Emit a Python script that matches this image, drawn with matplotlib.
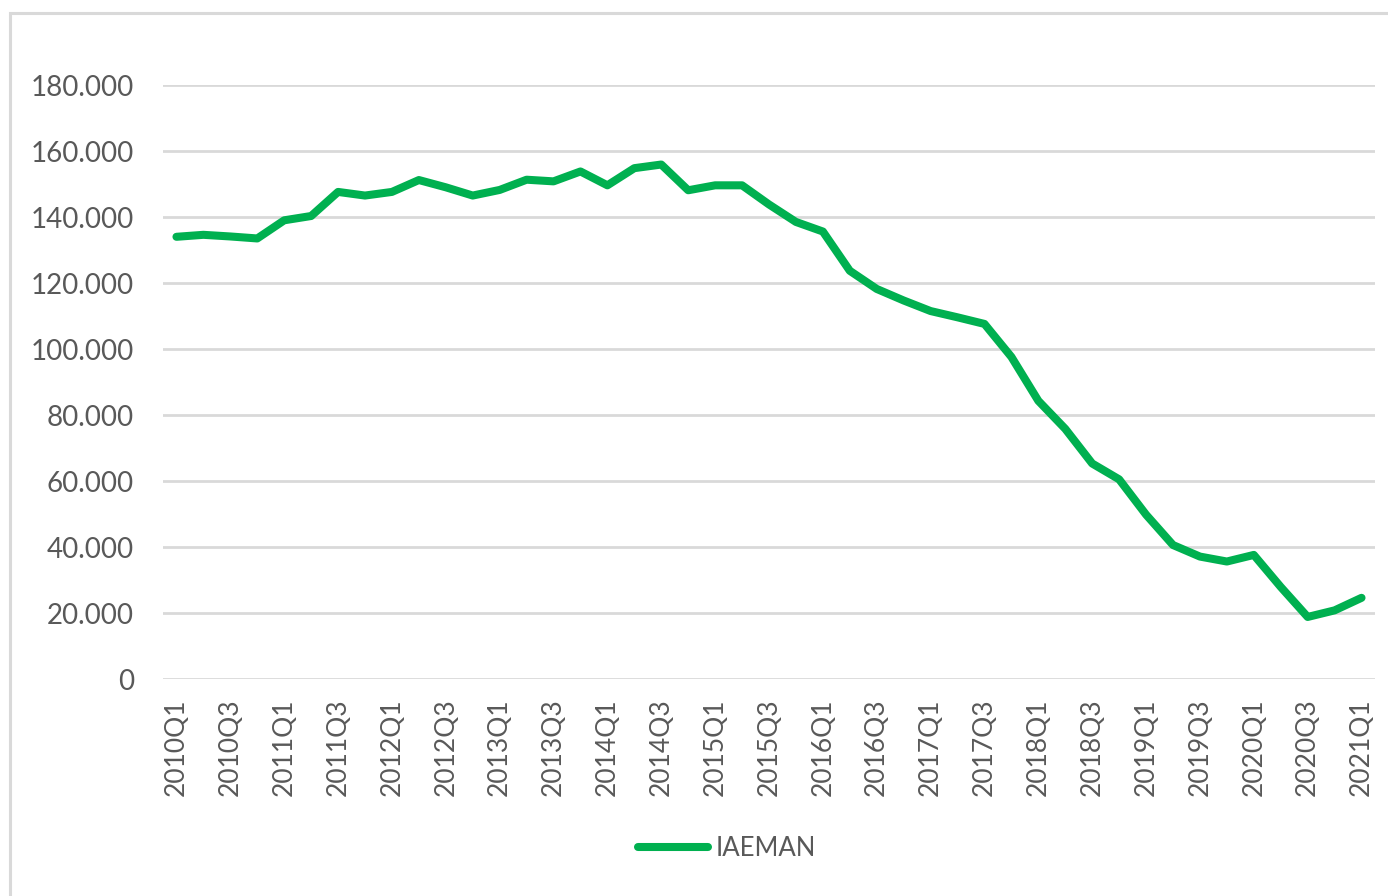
import matplotlib
matplotlib.use("Agg")
import matplotlib.pyplot as plt
from matplotlib.patches import Rectangle

# quarterly series 2010Q1 .. 2021Q1
quarters = [f"{y}Q{q}" for y in range(2010, 2022) for q in range(1, 5)][:45]
iaeman = [
    134.0, 134.6, 134.1, 133.5, 139.0, 140.3, 147.6, 146.5, 147.6, 151.2,
    149.0, 146.5, 148.2, 151.3, 150.8, 153.8, 149.6, 154.8, 155.9, 148.1,
    149.6, 149.6, 143.8, 138.5, 135.6, 123.7, 118.2, 114.7, 111.5, 109.6,
    107.6, 97.6, 84.3, 75.8, 65.3, 60.5, 49.8, 40.6, 37.1, 35.6,
    37.6, 27.9, 18.8, 20.8, 24.6,
]
y_ticks = [0, 20, 40, 60, 80, 100, 120, 140, 160, 180]


def fmt(v):
    return "0" if v == 0 else f"{v}.000"


plt.rcParams["font.family"] = ["Lato", "DejaVu Sans"]
text_color = "#595959"
grid_color = "#d9d9d9"

fig = plt.figure(figsize=(13.88, 8.96), dpi=100)
fig.patches.append(Rectangle((10 / 1388, -0.1), 1.2, 1 - 12.5 / 896 + 0.1,
                             transform=fig.transFigure, fill=False,
                             edgecolor=grid_color, linewidth=2.2))

ax = fig.add_axes([163 / 1388, 1 - 679 / 896, (1375 - 163) / 1388, (679 - 85) / 896])
x = list(range(len(quarters)))
line, = ax.plot(x, iaeman, color="#00B050", linewidth=5.8, solid_capstyle="round",
                solid_joinstyle="round", label="IAEMAN", zorder=3)

ax.set_xlim(-0.5, len(quarters) - 0.5)
ax.set_ylim(0, 180)
ax.set_yticks(y_ticks)
ax.set_yticklabels([fmt(v) for v in y_ticks])
ax.set_xticks(x[::2])
ax.set_xticklabels(quarters[::2], rotation=90)
for s in ax.spines.values():
    s.set_visible(False)
ax.grid(axis="y", color=grid_color, linewidth=2.0, zorder=0)
ax.tick_params(axis="y", length=0, pad=21, labelsize=20, labelcolor=text_color)
ax.tick_params(axis="x", length=0, pad=14, labelsize=19, labelcolor=text_color)

fig.legend(handles=[line], loc="center", bbox_to_anchor=(727 / 1388, 1 - 848 / 896),
           frameon=False, fontsize=18.5, handlelength=2.7, handletextpad=0.3,
           labelcolor=text_color)

fig.savefig("out.png", dpi=100)
